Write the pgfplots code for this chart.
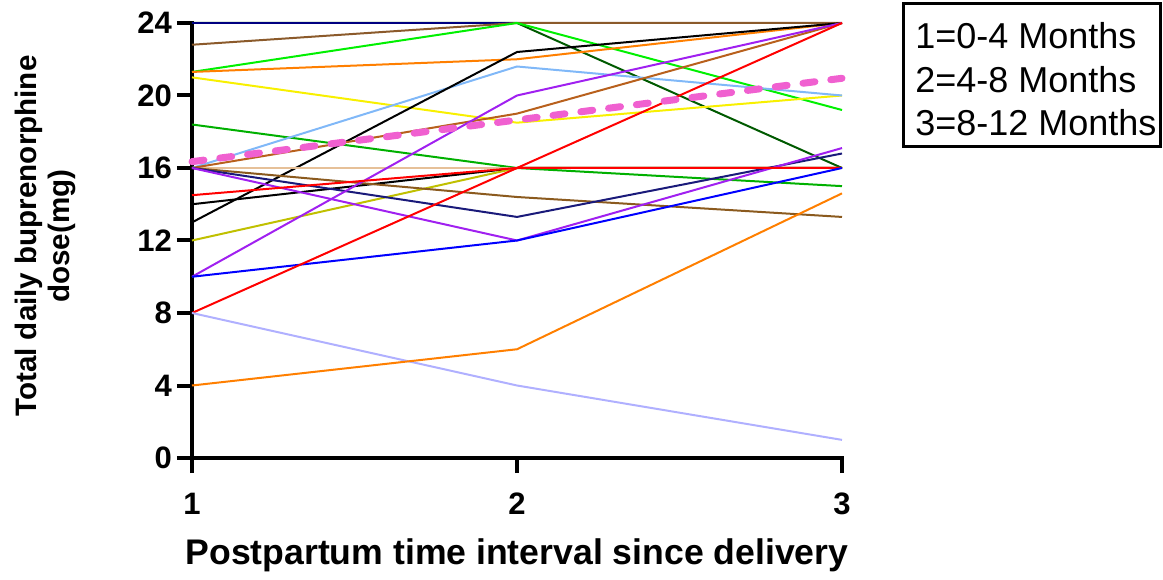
\documentclass[border=0pt]{standalone}
\usepackage{fontspec}
\setmainfont{Liberation Sans}
\usepackage{pgfplots}
\pgfplotsset{compat=1.18}
\definecolor{cnavy}{HTML}{000080}
\definecolor{cbrown}{HTML}{8B5A2B}
\definecolor{cbgreen}{HTML}{00F000}
\definecolor{corange}{HTML}{FF7F00}
\definecolor{cyellow}{HTML}{F8F000}
\definecolor{cdgreen}{HTML}{005A00}
\definecolor{cmgreen}{HTML}{00B000}
\definecolor{clblue}{HTML}{80B8F8}
\definecolor{csienna}{HTML}{B8601C}
\definecolor{cpurple}{HTML}{A020F0}
\definecolor{cred}{HTML}{FF0000}
\definecolor{ctan}{HTML}{E6C098}
\definecolor{cbrown2}{HTML}{8B5A1E}
\definecolor{colive}{HTML}{C0C000}
\definecolor{cblue}{HTML}{0000FF}
\definecolor{clav}{HTML}{B0B0FF}
\definecolor{cnavy2}{HTML}{1A1A7A}
\definecolor{cpink}{HTML}{F060D0}
\begin{document}
\begin{tikzpicture}
\useasboundingbox (0,0) rectangle (581.5pt,289.5pt);
\begin{axis}[
  at={(96pt,60.5pt)}, anchor=south west,
  scale only axis, width=325pt, height=217.5pt,
  xmin=1, xmax=3, ymin=0, ymax=24,
  axis x line*=bottom, axis y line*=left,
  axis line style={-, line width=2pt, line cap=rect},
  xtick={1,2,3}, ytick={0,4,8,12,16,20,24},
  tick align=outside, major tick length=7.5pt,
  every tick/.style={black, line width=2pt},
  ticklabel style={font=\bfseries\fontsize{15.5}{17}\selectfont},
  xticklabel style={yshift=-6.5pt},
  yticklabel style={xshift=1pt},
  /pgf/number format/assume math mode=true,
  xlabel={Postpartum time interval since delivery},
  ylabel={Total daily buprenorphine\\dose(mg)},
  xlabel style={font=\bfseries\fontsize{17.8}{20}\selectfont, at={(axis description cs:0.5,-0.223)}, anchor=center},
  ylabel style={font=\bfseries\fontsize{14.8}{16.5}\selectfont, align=center, at={(axis description cs:-0.2254,0.51)}, anchor=center},
  clip=false,
]
\addplot[cdgreen, line width=1pt] coordinates {(1,24) (2,24) (3,16)};
\addplot[cnavy, line width=1pt] coordinates {(1,24) (2,24) (3,24)};
\addplot[cbrown, line width=1pt] coordinates {(1,22.8) (2,24) (3,24)};
\addplot[cbgreen, line width=1pt] coordinates {(1,21.3) (2,24) (3,19.2)};
\addplot[corange, line width=1pt] coordinates {(1,21.3) (2,22) (3,24)};
\addplot[cyellow, line width=1pt] coordinates {(1,21) (2,18.5) (3,20)};
\addplot[cmgreen, line width=1pt] coordinates {(1,18.4) (2,16) (3,15)};
\addplot[clblue, line width=1pt] coordinates {(1,16) (2,21.6) (3,20)};
\addplot[black, line width=1pt] coordinates {(1,13) (2,22.4) (3,24)};
\addplot[ctan, line width=1pt] coordinates {(1,16) (2,16) (3,16)};
\addplot[black, line width=1pt] coordinates {(1,14) (2,16) (3,16)};
\addplot[colive, line width=1pt] coordinates {(1,12) (2,16) (3,16)};
\addplot[csienna, line width=1pt] coordinates {(1,16) (2,19) (3,24)};
\addplot[cbrown2, line width=1pt] coordinates {(1,16) (2,14.4) (3,13.3)};
\addplot[cnavy2, line width=1pt] coordinates {(1,16) (2,13.3) (3,16.8)};
\addplot[cpurple, line width=1pt] coordinates {(1,10) (2,20) (3,24)};
\addplot[cpurple, line width=1pt] coordinates {(1,16) (2,12) (3,17.1)};
\addplot[cred, line width=1pt] coordinates {(1,14.5) (2,16) (3,16)};
\addplot[cblue, line width=1pt] coordinates {(1,10) (2,12) (3,16)};
\addplot[cred, line width=1pt] coordinates {(1,8) (2,16) (3,24)};
\addplot[clav, line width=1pt] coordinates {(1,8) (2,4) (3,1)};
\addplot[corange, line width=1pt] coordinates {(1,4) (2,6) (3,14.6)};
\addplot[cpink, line width=3.5pt, line cap=round, dash pattern=on 6pt off 8pt] coordinates {(1,16.35) (2,18.65) (3,20.95)};
\end{axis}
\draw[line width=1.5pt] (451.5pt,216pt) rectangle (580pt,287.5pt);
\node[anchor=base west, inner sep=0pt, font=\fontsize{18}{20}\selectfont] at (457.5pt,265pt) {1=0-4 Months};
\node[anchor=base west, inner sep=0pt, font=\fontsize{18}{20}\selectfont] at (457.5pt,243.25pt) {2=4-8 Months};
\node[anchor=base west, inner sep=0pt, font=\fontsize{18}{20}\selectfont] at (457.5pt,221.5pt) {3=8-12 Months};
\end{tikzpicture}
\end{document}
